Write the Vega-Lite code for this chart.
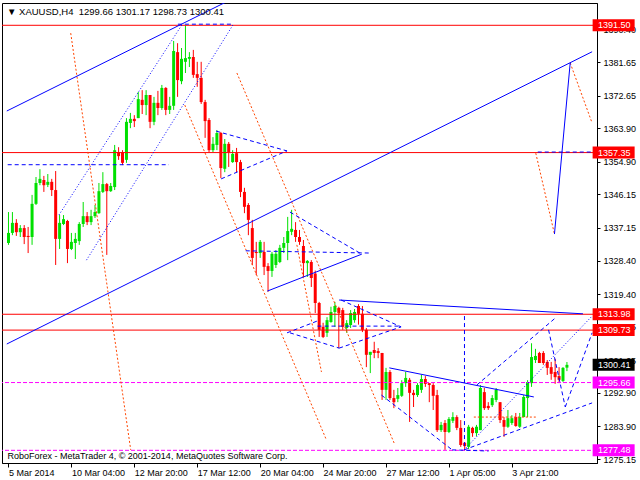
{
 "$schema": "https://vega.github.io/schema/vega-lite/v6.json",
 "width": 595,
 "height": 460,
 "autosize": {"type": "none"},
 "padding": {"left": 2, "top": 3, "right": 43, "bottom": 17},
 "background": "white",
 "title": {"text": "▼ XAUUSD,H4\u00a0\u00a01299.66 1301.17 1298.73 1300.41", "anchor": "start", "frame": "group", "orient": "top", "offset": -10, "dy": 11, "dx": 5, "baseline": "alphabetic", "font": "Liberation Sans, DejaVu Sans", "fontSize": 9.5, "fontWeight": "normal", "color": "black"},
 "config": {
  "view": {"stroke": "black", "strokeWidth": 1},
  "axis": {"labelFont": "Liberation Sans", "labelFontSize": 9, "labelColor": "black", "domainColor": "black", "tickColor": "black", "grid": false, "labelOverlap": false, "labelFlush": false, "labelBound": false}
 },
 "datasets": {
  "candles": [
{"i":0,"o":1333.1,"h":1341.4,"l":1332.6,"c":1335.8},
{"i":1,"o":1335.8,"h":1341.4,"l":1335.2,"c":1338.5},
{"i":2,"o":1338.5,"h":1339.5,"l":1335.0,"c":1336.0},
{"i":3,"o":1336.0,"h":1337.9,"l":1334.7,"c":1337.1},
{"i":4,"o":1337.1,"h":1337.9,"l":1332.8,"c":1334.7},
{"i":5,"o":1335.0,"h":1337.4,"l":1330.4,"c":1334.7},
{"i":6,"o":1334.7,"h":1346.0,"l":1332.6,"c":1343.6},
{"i":7,"o":1343.6,"h":1350.8,"l":1343.3,"c":1349.2},
{"i":8,"o":1349.2,"h":1352.9,"l":1348.6,"c":1350.3},
{"i":9,"o":1350.0,"h":1351.1,"l":1346.8,"c":1348.6},
{"i":10,"o":1348.7,"h":1351.6,"l":1348.1,"c":1349.5},
{"i":11,"o":1349.5,"h":1350.3,"l":1345.7,"c":1347.3},
{"i":12,"o":1347.3,"h":1352.4,"l":1327.2,"c":1334.2},
{"i":13,"o":1334.2,"h":1340.6,"l":1331.5,"c":1338.5},
{"i":14,"o":1338.2,"h":1340.6,"l":1337.9,"c":1339.5},
{"i":15,"o":1339.0,"h":1339.3,"l":1327.7,"c":1331.5},
{"i":16,"o":1331.5,"h":1335.8,"l":1331.2,"c":1333.4},
{"i":17,"o":1333.1,"h":1335.8,"l":1328.8,"c":1334.2},
{"i":18,"o":1333.6,"h":1338.7,"l":1332.6,"c":1338.2},
{"i":19,"o":1338.2,"h":1344.1,"l":1337.4,"c":1340.3},
{"i":20,"o":1340.3,"h":1341.4,"l":1337.9,"c":1338.7},
{"i":21,"o":1338.7,"h":1342.0,"l":1337.9,"c":1340.3},
{"i":22,"o":1340.3,"h":1343.3,"l":1339.8,"c":1341.4},
{"i":23,"o":1341.1,"h":1349.2,"l":1340.9,"c":1347.0},
{"i":24,"o":1346.8,"h":1352.1,"l":1346.5,"c":1348.9},
{"i":25,"o":1348.9,"h":1349.2,"l":1329.9,"c":1347.0},
{"i":26,"o":1347.0,"h":1349.2,"l":1346.8,"c":1348.4},
{"i":27,"o":1348.1,"h":1359.4,"l":1347.3,"c":1358.0},
{"i":28,"o":1357.5,"h":1358.8,"l":1355.4,"c":1356.4},
{"i":29,"o":1357.5,"h":1358.0,"l":1354.0,"c":1354.6},
{"i":30,"o":1355.4,"h":1366.6,"l":1354.6,"c":1365.6},
{"i":31,"o":1365.3,"h":1368.0,"l":1363.9,"c":1366.4},
{"i":32,"o":1366.4,"h":1367.4,"l":1364.2,"c":1365.8},
{"i":33,"o":1366.6,"h":1373.6,"l":1366.6,"c":1371.7},
{"i":34,"o":1371.5,"h":1374.1,"l":1367.7,"c":1370.1},
{"i":35,"o":1370.1,"h":1374.1,"l":1367.4,"c":1372.8},
{"i":36,"o":1372.8,"h":1372.8,"l":1363.9,"c":1365.6},
{"i":37,"o":1365.6,"h":1372.3,"l":1364.7,"c":1370.7},
{"i":38,"o":1370.7,"h":1373.9,"l":1367.4,"c":1369.3},
{"i":39,"o":1369.3,"h":1375.5,"l":1368.8,"c":1374.7},
{"i":40,"o":1374.7,"h":1374.9,"l":1367.4,"c":1368.8},
{"i":41,"o":1368.8,"h":1372.3,"l":1367.7,"c":1369.9},
{"i":42,"o":1369.9,"h":1387.3,"l":1368.8,"c":1384.6},
{"i":43,"o":1384.3,"h":1386.7,"l":1372.3,"c":1376.8},
{"i":44,"o":1376.5,"h":1385.4,"l":1375.7,"c":1382.5},
{"i":45,"o":1381.7,"h":1391.5,"l":1378.7,"c":1382.7},
{"i":46,"o":1382.5,"h":1384.3,"l":1380.3,"c":1383.0},
{"i":47,"o":1383.0,"h":1384.9,"l":1377.4,"c":1378.2},
{"i":48,"o":1378.4,"h":1381.7,"l":1375.0,"c":1377.4},
{"i":49,"o":1377.4,"h":1381.7,"l":1370.4,"c":1370.9},
{"i":50,"o":1370.9,"h":1371.5,"l":1361.3,"c":1365.8},
{"i":51,"o":1366.1,"h":1366.6,"l":1357.5,"c":1358.0},
{"i":52,"o":1358.0,"h":1361.5,"l":1357.5,"c":1359.7},
{"i":53,"o":1359.4,"h":1363.4,"l":1358.0,"c":1362.6},
{"i":54,"o":1362.6,"h":1362.9,"l":1350.5,"c":1353.2},
{"i":55,"o":1353.0,"h":1361.0,"l":1352.1,"c":1359.7},
{"i":56,"o":1359.7,"h":1360.2,"l":1353.5,"c":1357.5},
{"i":57,"o":1354.8,"h":1358.0,"l":1354.6,"c":1357.0},
{"i":58,"o":1357.2,"h":1358.6,"l":1352.1,"c":1354.8},
{"i":59,"o":1354.8,"h":1355.4,"l":1345.4,"c":1346.8},
{"i":60,"o":1346.8,"h":1347.9,"l":1341.1,"c":1342.8},
{"i":61,"o":1343.3,"h":1343.8,"l":1335.2,"c":1339.3},
{"i":62,"o":1337.1,"h":1339.3,"l":1327.2,"c":1329.1},
{"i":63,"o":1330.7,"h":1333.4,"l":1324.5,"c":1330.4},
{"i":64,"o":1330.4,"h":1333.9,"l":1329.1,"c":1333.4},
{"i":65,"o":1330.7,"h":1333.4,"l":1324.5,"c":1326.7},
{"i":66,"o":1326.9,"h":1327.7,"l":1320.0,"c":1325.6},
{"i":67,"o":1325.6,"h":1330.7,"l":1324.0,"c":1330.2},
{"i":68,"o":1327.2,"h":1331.2,"l":1326.4,"c":1330.2},
{"i":69,"o":1328.0,"h":1332.6,"l":1327.7,"c":1331.8},
{"i":70,"o":1331.8,"h":1334.7,"l":1330.4,"c":1333.1},
{"i":71,"o":1333.1,"h":1340.1,"l":1328.5,"c":1336.3},
{"i":72,"o":1336.1,"h":1342.0,"l":1335.2,"c":1336.9},
{"i":73,"o":1336.6,"h":1338.7,"l":1333.4,"c":1334.7},
{"i":74,"o":1334.7,"h":1336.6,"l":1332.6,"c":1333.4},
{"i":75,"o":1332.3,"h":1333.9,"l":1324.0,"c":1327.7},
{"i":76,"o":1327.7,"h":1328.5,"l":1324.0,"c":1328.3},
{"i":77,"o":1328.0,"h":1328.5,"l":1321.3,"c":1323.7},
{"i":78,"o":1324.9,"h":1325.7,"l":1314.3,"c":1317.0},
{"i":79,"o":1317.0,"h":1317.3,"l":1307.9,"c":1309.8},
{"i":80,"o":1310.6,"h":1311.7,"l":1307.6,"c":1307.9},
{"i":81,"o":1309.0,"h":1313.2,"l":1307.9,"c":1312.4},
{"i":82,"o":1311.9,"h":1316.0,"l":1311.7,"c":1314.6},
{"i":83,"o":1314.6,"h":1317.3,"l":1310.6,"c":1316.2},
{"i":84,"o":1315.7,"h":1316.0,"l":1304.9,"c":1314.3},
{"i":85,"o":1315.1,"h":1315.7,"l":1309.8,"c":1310.6},
{"i":86,"o":1310.3,"h":1312.4,"l":1309.0,"c":1311.6},
{"i":87,"o":1311.1,"h":1315.1,"l":1310.3,"c":1314.3},
{"i":88,"o":1312.4,"h":1315.4,"l":1311.7,"c":1314.6},
{"i":89,"o":1316.2,"h":1316.7,"l":1311.2,"c":1314.1},
{"i":90,"o":1314.1,"h":1316.2,"l":1309.2,"c":1309.8},
{"i":91,"o":1309.8,"h":1310.3,"l":1299.8,"c":1303.1},
{"i":92,"o":1303.1,"h":1303.9,"l":1298.2,"c":1303.9},
{"i":93,"o":1304.4,"h":1306.6,"l":1302.2,"c":1303.6},
{"i":94,"o":1304.1,"h":1304.9,"l":1302.2,"c":1303.6},
{"i":95,"o":1303.6,"h":1303.6,"l":1291.0,"c":1293.7},
{"i":96,"o":1293.7,"h":1299.6,"l":1291.0,"c":1298.5},
{"i":97,"o":1298.5,"h":1299.0,"l":1291.0,"c":1291.5},
{"i":98,"o":1291.5,"h":1293.7,"l":1288.8,"c":1290.4},
{"i":99,"o":1291.3,"h":1294.2,"l":1290.4,"c":1292.3},
{"i":100,"o":1292.1,"h":1296.3,"l":1291.8,"c":1295.5},
{"i":101,"o":1295.5,"h":1298.5,"l":1294.5,"c":1296.9},
{"i":102,"o":1296.4,"h":1296.9,"l":1285.1,"c":1292.9},
{"i":103,"o":1292.9,"h":1293.7,"l":1289.1,"c":1292.3},
{"i":104,"o":1292.3,"h":1295.5,"l":1291.8,"c":1295.0},
{"i":105,"o":1293.7,"h":1297.7,"l":1292.9,"c":1296.6},
{"i":106,"o":1296.6,"h":1297.4,"l":1294.5,"c":1295.3},
{"i":107,"o":1295.5,"h":1295.5,"l":1290.4,"c":1295.0},
{"i":108,"o":1295.0,"h":1295.5,"l":1288.3,"c":1292.1},
{"i":109,"o":1292.3,"h":1293.7,"l":1282.4,"c":1282.9},
{"i":110,"o":1282.9,"h":1285.1,"l":1282.4,"c":1284.3},
{"i":111,"o":1284.8,"h":1285.6,"l":1277.6,"c":1282.4},
{"i":112,"o":1282.4,"h":1286.4,"l":1282.1,"c":1285.9},
{"i":113,"o":1285.4,"h":1287.7,"l":1284.8,"c":1286.4},
{"i":114,"o":1286.4,"h":1286.9,"l":1282.9,"c":1283.5},
{"i":115,"o":1283.5,"h":1285.6,"l":1278.4,"c":1278.9},
{"i":116,"o":1279.5,"h":1279.7,"l":1277.5,"c":1278.6},
{"i":117,"o":1278.4,"h":1284.3,"l":1277.8,"c":1283.8},
{"i":118,"o":1283.5,"h":1283.8,"l":1281.1,"c":1282.1},
{"i":119,"o":1282.1,"h":1284.3,"l":1281.3,"c":1283.8},
{"i":120,"o":1282.9,"h":1295.0,"l":1282.9,"c":1294.2},
{"i":121,"o":1293.1,"h":1294.2,"l":1288.3,"c":1288.8},
{"i":122,"o":1289.4,"h":1290.4,"l":1288.3,"c":1288.8},
{"i":123,"o":1289.6,"h":1292.3,"l":1289.1,"c":1291.5},
{"i":124,"o":1291.0,"h":1294.2,"l":1290.4,"c":1293.7},
{"i":125,"o":1290.4,"h":1290.4,"l":1284.8,"c":1285.6},
{"i":126,"o":1285.6,"h":1286.4,"l":1281.1,"c":1283.8},
{"i":127,"o":1283.8,"h":1288.3,"l":1283.5,"c":1286.1},
{"i":128,"o":1284.8,"h":1286.9,"l":1284.3,"c":1286.1},
{"i":129,"o":1286.4,"h":1287.5,"l":1283.8,"c":1284.0},
{"i":130,"o":1283.8,"h":1287.5,"l":1283.5,"c":1286.4},
{"i":131,"o":1286.4,"h":1292.3,"l":1286.4,"c":1291.8},
{"i":132,"o":1291.5,"h":1296.3,"l":1286.4,"c":1295.8},
{"i":133,"o":1295.5,"h":1306.2,"l":1294.5,"c":1302.5},
{"i":134,"o":1301.7,"h":1304.7,"l":1300.9,"c":1302.8},
{"i":135,"o":1303.6,"h":1303.9,"l":1300.9,"c":1300.9},
{"i":136,"o":1303.6,"h":1304.1,"l":1300.4,"c":1300.9},
{"i":137,"o":1301.2,"h":1301.7,"l":1297.7,"c":1299.6},
{"i":138,"o":1299.8,"h":1301.2,"l":1296.4,"c":1298.0},
{"i":139,"o":1298.5,"h":1302.0,"l":1295.3,"c":1297.1},
{"i":140,"o":1297.4,"h":1299.8,"l":1295.5,"c":1296.4},
{"i":141,"o":1296.1,"h":1299.8,"l":1295.8,"c":1299.6},
{"i":142,"o":1299.66,"h":1301.17,"l":1298.73,"c":1300.41}
  ],
  "segments": [
{"tool":"trend","t1":-0.43,"p1":1368.5,"t2":56,"p2":1398.1},
{"tool":"trend","t1":-0.43,"p1":1306.0,"t2":148.4,"p2":1384.4},
{"tool":"channel","t1":12.83,"p1":1340.6,"t2":44.08,"p2":1391.6},
{"tool":"channel","t1":19.83,"p1":1328.5,"t2":57.08,"p2":1391.6},
{"tool":"pattern","t1":43.08,"p1":1391.8,"t2":57.08,"p2":1391.8},
{"tool":"pattern","t1":-0.2,"p1":1354.1,"t2":40.8,"p2":1354.1},
{"tool":"pattern","t1":52.83,"p1":1363.1,"t2":70.83,"p2":1357.8},
{"tool":"pattern","t1":54.08,"p1":1350.3,"t2":70.83,"p2":1357.8},
{"tool":"trend","t1":65.83,"p1":1320.2,"t2":89.83,"p2":1330.1},
{"tool":"pattern","t1":71.58,"p1":1341.4,"t2":89.83,"p2":1330.1},
{"tool":"pattern","t1":60.33,"p1":1331.0,"t2":92.08,"p2":1330.4},
{"tool":"trend","t1":84.08,"p1":1317.8,"t2":146.08,"p2":1314.1},
{"tool":"pattern","t1":70.83,"p1":1309.0,"t2":79.08,"p2":1312.4},
{"tool":"pattern","t1":71.58,"p1":1309.0,"t2":84.08,"p2":1304.9},
{"tool":"pattern","t1":84.08,"p1":1304.9,"t2":99.83,"p2":1310.6},
{"tool":"pattern","t1":84.58,"p1":1317.8,"t2":99.83,"p2":1310.6},
{"tool":"pattern","t1":78.58,"p1":1310.8,"t2":99.83,"p2":1310.8},
{"tool":"trend","t1":96.83,"p1":1299.6,"t2":133.58,"p2":1291.8},
{"tool":"pattern","t1":94.83,"p1":1292.3,"t2":112.83,"p2":1277.6},
{"tool":"pattern","t1":112.83,"p1":1277.6,"t2":122.08,"p2":1277.3},
{"tool":"pattern","t1":115.95,"p1":1313.5,"t2":115.95,"p2":1277.6},
{"tool":"channel","t1":115.83,"p1":1277.6,"t2":148.4,"p2":1313.5},
{"tool":"pattern","t1":119.08,"p1":1295.0,"t2":139.08,"p2":1313.0},
{"tool":"pattern","t1":115.83,"p1":1277.6,"t2":148.4,"p2":1290.2},
{"tool":"pattern","t1":137.33,"p1":1309.8,"t2":141.58,"p2":1289.1},
{"tool":"pattern","t1":141.58,"p1":1289.1,"t2":148.4,"p2":1309.0},
{"tool":"trend","t1":138.83,"p1":1335.5,"t2":142.83,"p2":1381.4},
{"tool":"wave","t1":142.83,"p1":1381.4,"t2":148.4,"p2":1365.3},
{"tool":"wave","t1":134.08,"p1":1357.2,"t2":138.83,"p2":1335.5},
{"tool":"pattern","t1":134.58,"p1":1357.5,"t2":148.4,"p2":1357.5},
{"tool":"wave","t1":15.83,"p1":1389.4,"t2":31.08,"p2":1277.6},
{"tool":"wave","t1":44.83,"p1":1370.1,"t2":80.83,"p2":1280.3},
{"tool":"wave","t1":58.08,"p1":1378.7,"t2":98.08,"p2":1279.4},
{"tool":"wave","t1":73.33,"p1":1332.6,"t2":79.58,"p2":1298.5},
{"tool":"wave","t1":118.33,"p1":1286.4,"t2":134.08,"p2":1286.4}
  ],
  "levels": [
{"p":1391.50,"kind":"level"},
{"p":1357.35,"kind":"level"},
{"p":1313.98,"kind":"level"},
{"p":1309.73,"kind":"level"},
{"p":1300.41,"kind":"bid"},
{"p":1295.66,"kind":"target"},
{"p":1277.48,"kind":"target"}
  ]
 },
 "layer": [
  {
   "data": {"name": "candles"},
   "mark": {"type": "rule", "strokeWidth": 1, "clip": true},
   "encoding": {
    "x": {"field": "i", "type": "quantitative", "scale": {"domain": [-0.375, 148.375], "nice": false, "zero": false},
      "axis": {"values": [0,16,32,48,64,80,96,112,128], "tickCount": 20, "labelExpr": "['5 Mar 2014','10 Mar 04:00','12 Mar 20:00','17 Mar 12:00','20 Mar 04:00','24 Mar 20:00','27 Mar 12:00','1 Apr 05:00','3 Apr 21:00'][round(datum.value/16)]", "labelAlign": "left", "labelBaseline": "top", "labelDx": -1, "tickSize": 4, "labelPadding": 1, "labelOverlap": false,
        "title": "RoboForex - MetaTrader 4, © 2001-2014, MetaQuotes Software Corp.", "titleX": 5, "titleY": -5, "titleAlign": "left", "titleAnchor": "start", "titleBaseline": "alphabetic", "titleFont": "Liberation Sans", "titleFontSize": 9, "titleFontWeight": "normal", "titleColor": "black"}},
    "y": {"field": "l", "type": "quantitative", "scale": {"domain": [1274.08, 1397.48], "nice": false, "zero": false},
      "axis": {"orient": "right", "values": [1275.15,1283.90,1292.90,1301.65,1310.65,1319.40,1328.40,1337.15,1346.15,1354.90,1363.90,1372.65,1381.65,1390.40], "tickCount": 30, "format": ".2f", "tickSize": 3, "labelPadding": 3, "labelOverlap": false, "title": null}},
    "y2": {"field": "h"},
    "color": {"condition": {"test": "datum.c >= datum.o", "value": "#00e000"}, "value": "#ff0000"}
   }
  },
  {
   "data": {"name": "candles"},
   "mark": {"type": "bar", "size": 3, "clip": true},
   "encoding": {
    "x": {"field": "i", "type": "quantitative"},
    "y": {"field": "o", "type": "quantitative"},
    "y2": {"field": "c"},
    "color": {"condition": {"test": "datum.c >= datum.o", "value": "#00e000"}, "value": "#ff0000"}
   }
  },
  {
   "data": {"name": "levels"},
   "transform": [{"filter": "datum.kind === 'level'"}],
   "mark": {"type": "rule", "color": "#ff0000", "strokeWidth": 1},
   "encoding": {"y": {"field": "p", "type": "quantitative"}}
  },
  {
   "data": {"name": "levels"},
   "transform": [{"filter": "datum.kind === 'target'"}],
   "mark": {"type": "rule", "color": "#ff00ff", "strokeWidth": 1, "strokeDash": [4, 2]},
   "encoding": {"y": {"field": "p", "type": "quantitative"}}
  },
  {
   "data": {"name": "segments"},
   "transform": [{"filter": "datum.tool === 'wave'"}],
   "mark": {"type": "rule", "color": "#ff4500", "strokeWidth": 1, "strokeDash": [2, 2], "clip": true},
   "encoding": {"x": {"field": "t1", "type": "quantitative"}, "x2": {"field": "t2"}, "y": {"field": "p1", "type": "quantitative"}, "y2": {"field": "p2"}}
  },
  {
   "data": {"name": "segments"},
   "transform": [{"filter": "datum.tool === 'trend'"}],
   "mark": {"type": "rule", "color": "#0000ff", "strokeWidth": 1, "clip": true},
   "encoding": {"x": {"field": "t1", "type": "quantitative"}, "x2": {"field": "t2"}, "y": {"field": "p1", "type": "quantitative"}, "y2": {"field": "p2"}}
  },
  {
   "data": {"name": "segments"},
   "transform": [{"filter": "datum.tool === 'pattern'"}],
   "mark": {"type": "rule", "color": "#0000ff", "strokeWidth": 1, "strokeDash": [4, 3], "clip": true},
   "encoding": {"x": {"field": "t1", "type": "quantitative"}, "x2": {"field": "t2"}, "y": {"field": "p1", "type": "quantitative"}, "y2": {"field": "p2"}}
  },
  {
   "data": {"name": "segments"},
   "transform": [{"filter": "datum.tool === 'channel'"}],
   "mark": {"type": "rule", "color": "#0000ff", "strokeWidth": 1, "strokeDash": [1, 2], "clip": true},
   "encoding": {"x": {"field": "t1", "type": "quantitative"}, "x2": {"field": "t2"}, "y": {"field": "p1", "type": "quantitative"}, "y2": {"field": "p2"}}
  },
  {
   "data": {"name": "levels"},
   "mark": {"type": "tick", "orient": "horizontal", "size": 42, "thickness": 12, "opacity": 1, "clip": false},
   "encoding": {
    "x": {"datum": 153.875},
    "y": {"field": "p", "type": "quantitative"},
    "color": {"field": "kind", "type": "nominal", "scale": {"domain": ["level", "bid", "target"], "range": ["#ff0000", "#000000", "#ff00ff"]}, "legend": null}
   }
  },
  {
   "data": {"name": "levels"},
   "mark": {"type": "text", "align": "left", "baseline": "middle", "color": "white", "font": "Liberation Sans", "fontSize": 9, "clip": false},
   "encoding": {
    "x": {"datum": 149.875},
    "y": {"field": "p", "type": "quantitative"},
    "text": {"field": "p", "type": "quantitative", "format": ".2f"}
   }
  }
 ]
}
